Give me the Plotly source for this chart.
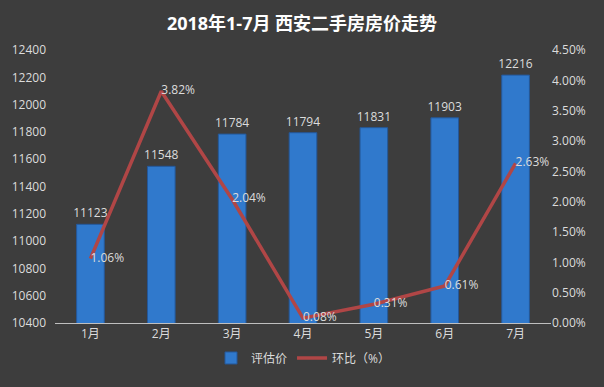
import plotly.graph_objects as go

months = ["1月", "2月", "3月", "4月", "5月", "6月", "7月"]
price = [11123, 11548, 11784, 11794, 11831, 11903, 12216]
mom = [1.06, 3.82, 2.04, 0.08, 0.31, 0.61, 2.63]
y_ticks = list(range(10400, 12401, 200))
pct_ticks = [0, 0.5, 1.0, 1.5, 2.0, 2.5, 3.0, 3.5, 4.0, 4.5]

FONT = "Open Sans, Noto Sans CJK SC, sans-serif"
TXT = "#dcdcdc"

fig = go.Figure()
fig.add_trace(go.Bar(
    x=months, y=price, name="评估价",
    marker=dict(color="#3079cc", line=dict(color="#24589a", width=1)),
    width=0.39,
    text=[str(v) for v in price], textposition="outside", constraintext="none",
    textfont=dict(color=TXT, size=12, family=FONT),
    cliponaxis=False,
))
fig.add_trace(go.Scatter(
    x=months, y=mom, name="环比（%）", yaxis="y2",
    mode="lines+text",
    line=dict(color="#b04646", width=3.5),
    text=[f"{v:.2f}%" for v in mom], textposition="middle right",
    textfont=dict(color=TXT, size=12, family=FONT),
    cliponaxis=False,
))

fig.update_layout(
    width=604, height=387,
    paper_bgcolor="#3d3d3d", plot_bgcolor="#3d3d3d",
    margin=dict(l=55, r=53, t=50, b=64),
    font=dict(family=FONT, color=TXT, size=11),
    uniformtext=dict(mode=False),
    title=dict(text="<b>2018年1-7月 西安二手房房价走势</b>", x=0.5, xanchor="center",
               y=0.938, yanchor="middle", font=dict(size=18, color="#ffffff", family=FONT)),
    xaxis=dict(showgrid=False, showline=True, linecolor="#bfbfbf", linewidth=1,
               ticks="", tickfont=dict(size=12, color=TXT)),
    yaxis=dict(range=[10400, 12400], tickvals=y_ticks, ticktext=[str(v) for v in y_ticks],
               showgrid=False, zeroline=False,
               showline=False, tickfont=dict(size=12, color=TXT), ticklabelstandoff=8),
    yaxis2=dict(range=[0, 4.5], overlaying="y", side="right", tickvals=pct_ticks,
                ticktext=[f"{v:.2f}%" for v in pct_ticks], showgrid=False, zeroline=False,
                showline=False, tickfont=dict(size=12, color=TXT)),
    legend=dict(orientation="h", x=0.5, xanchor="center", y=-0.075, yanchor="top",
                font=dict(size=12, color=TXT), bgcolor="rgba(0,0,0,0)"),
    bargap=0.6,
)
fig.write_html("out.html", config={"displayModeBar": False},
               post_script="document.body.style.margin='0';")
